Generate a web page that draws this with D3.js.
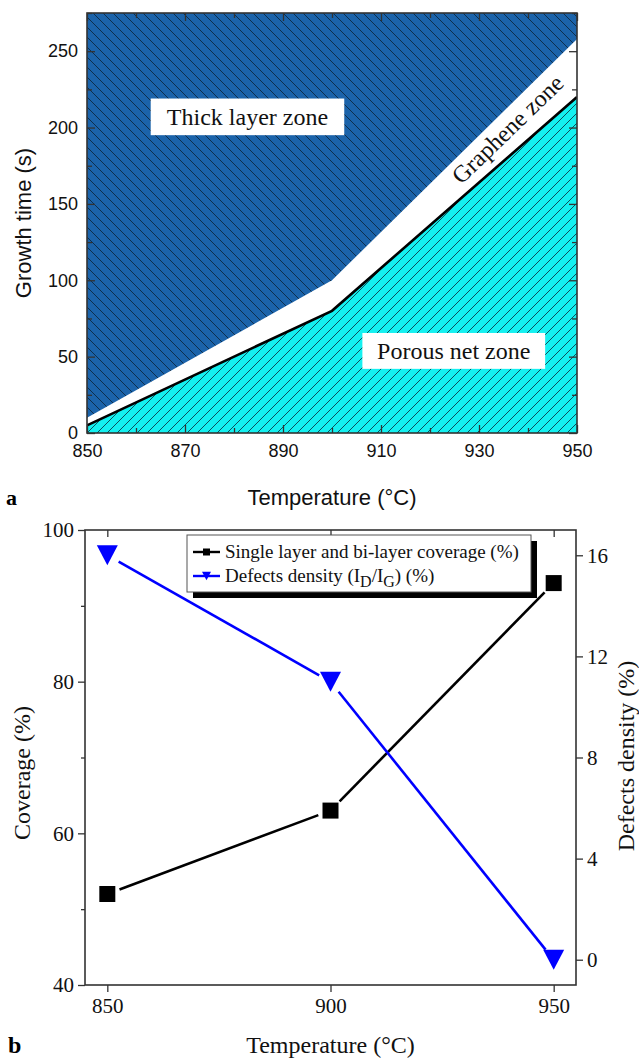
<!DOCTYPE html>
<html>
<head>
<meta charset="utf-8">
<script src="https://cdn.jsdelivr.net/npm/d3@7"></script>
<style>
body { margin: 0; background: #fff; }
</style>
</head>
<body>
<div id="chart"></div>
<script>
// ---- panel a : growth map ----
var temps_a      = [850, 900, 950];
var porous_edge  = [5, 80, 220];    // top of porous net zone
var thick_edge   = [10, 100, 258];  // bottom of thick layer zone
var ticks_a_x    = [850, 870, 890, 910, 930, 950];
var minor_a_x    = [860, 880, 900, 920, 940];
var ticks_a_y    = [0, 50, 100, 150, 200, 250];
var minor_a_y    = [25, 75, 125, 175, 225, 275];

// ---- panel b : coverage / defects ----
var temps_b      = [850, 900, 950];
var coverage     = [52, 63, 93];
var defects      = [16, 11, 0];
var ticks_b_x    = [850, 900, 950];
var ticks_b_cov  = [40, 60, 80, 100];
var minor_b_cov  = [50, 70, 90];
var ticks_b_def  = [0, 4, 8, 12, 16];

var width  = 639;
var height = 1060;

var sans  = 'Liberation Sans, Arial, sans-serif';
var serif = 'Liberation Serif, Times New Roman, serif';

var svg = d3.select('#chart')
	.append('svg')
	.attr('width', width)
	.attr('height', height);

var defs = svg.append('defs');

function hatch(id, fill, d) {
	var p = defs.append('pattern')
		.attr('id', id)
		.attr('patternUnits', 'userSpaceOnUse')
		.attr('width', 10)
		.attr('height', 10);
	p.append('rect').attr('width', 10).attr('height', 10).attr('fill', fill);
	p.append('path').attr('d', d)
		.attr('stroke', '#0b1d2e')
		.attr('stroke-width', 0.9)
		.attr('stroke-opacity', 0.85);
}
hatch('hatchBlue', '#1b63aa', 'M0,0L10,10M-2,8L2,12M8,-2L12,2');
hatch('hatchCyan', '#14f0f0', 'M0,10L10,0M-2,2L2,-2M8,12L12,8');

// ================= PANEL A =================
var ax = {l: 87, r: 577, t: 13, b: 433};

var x_a = d3.scaleLinear().domain([850, 950]).range([ax.l, ax.r]);
var y_a = d3.scaleLinear().domain([0, 275]).range([ax.b, ax.t]);

defs.append('clipPath').attr('id', 'clipA')
	.append('rect')
	.attr('x', ax.l).attr('y', ax.t)
	.attr('width', ax.r - ax.l).attr('height', ax.b - ax.t);

var gA = svg.append('g');
var plotA = gA.append('g').attr('clip-path', 'url(#clipA)');

var rows_a = temps_a.map(function(t, i) {
	return {t: t, lo: porous_edge[i], hi: thick_edge[i]};
});

var thickArea = d3.area()
	.x(function(d) { return x_a(d.t); })
	.y0(function(d) { return y_a(d.hi); })
	.y1(function() { return y_a(275); });

var porousArea = d3.area()
	.x(function(d) { return x_a(d.t); })
	.y0(function() { return y_a(0); })
	.y1(function(d) { return y_a(d.lo); });

plotA.append('path').datum(rows_a)
	.attr('d', thickArea)
	.attr('fill', 'url(#hatchBlue)');

plotA.append('path').datum(rows_a)
	.attr('d', porousArea)
	.attr('fill', 'url(#hatchCyan)');

plotA.append('path').datum(rows_a)
	.attr('d', d3.line()
		.x(function(d) { return x_a(d.t); })
		.y(function(d) { return y_a(d.lo); }))
	.attr('fill', 'none')
	.attr('stroke', '#000')
	.attr('stroke-width', 2.6);

// zone labels
function zoneBox(text, x0, x1, y0, y1) {
	gA.append('rect')
		.attr('x', x_a(x0)).attr('y', y_a(y1))
		.attr('width', x_a(x1) - x_a(x0))
		.attr('height', y_a(y0) - y_a(y1))
		.attr('fill', '#fff');
	gA.append('text')
		.attr('x', (x_a(x0) + x_a(x1)) / 2)
		.attr('y', (y_a(y0) + y_a(y1)) / 2)
		.attr('dy', '0.35em')
		.attr('text-anchor', 'middle')
		.style('font-family', serif)
		.style('font-size', '24px')
		.attr('fill', '#111')
		.text(text);
}
zoneBox('Thick layer zone', 863, 902.5, 195, 219);
zoneBox('Porous net zone', 906.2, 943.5, 42, 65.5);

gA.append('text')
	.attr('transform', 'translate(' + x_a(935.8) + ',' + y_a(199) + ') rotate(-44)')
	.attr('dy', '0.35em')
	.attr('text-anchor', 'middle')
	.style('font-family', serif)
	.style('font-size', '24px')
	.attr('fill', '#111')
	.text('Graphene zone');

// axes a
function styleAxis(g, font, size) {
	g.select('.domain').remove();
	g.selectAll('line').attr('stroke', '#333').attr('stroke-width', 1.3);
	g.selectAll('text').style('font-family', font).style('font-size', size).attr('fill', '#111');
}

gA.append('g').attr('transform', 'translate(0,' + ax.b + ')')
	.call(d3.axisBottom(x_a).tickValues(ticks_a_x).tickSize(-8).tickPadding(11).tickFormat(d3.format('d')))
	.call(styleAxis, sans, '18px');
gA.append('g').attr('transform', 'translate(0,' + ax.b + ')')
	.call(d3.axisBottom(x_a).tickValues(minor_a_x).tickSize(-5).tickFormat(''))
	.call(styleAxis, sans, '18px');
gA.append('g').attr('transform', 'translate(0,' + ax.t + ')')
	.call(d3.axisTop(x_a).tickValues(ticks_a_x).tickSize(-8).tickFormat(''))
	.call(styleAxis, sans, '18px');
gA.append('g').attr('transform', 'translate(0,' + ax.t + ')')
	.call(d3.axisTop(x_a).tickValues(minor_a_x).tickSize(-5).tickFormat(''))
	.call(styleAxis, sans, '18px');

gA.append('g').attr('transform', 'translate(' + ax.l + ',0)')
	.call(d3.axisLeft(y_a).tickValues(ticks_a_y).tickSize(-8).tickPadding(9))
	.call(styleAxis, sans, '18px');
gA.append('g').attr('transform', 'translate(' + ax.l + ',0)')
	.call(d3.axisLeft(y_a).tickValues(minor_a_y).tickSize(-5).tickFormat(''))
	.call(styleAxis, sans, '18px');
gA.append('g').attr('transform', 'translate(' + ax.r + ',0)')
	.call(d3.axisRight(y_a).tickValues(ticks_a_y).tickSize(-8).tickFormat(''))
	.call(styleAxis, sans, '18px');
gA.append('g').attr('transform', 'translate(' + ax.r + ',0)')
	.call(d3.axisRight(y_a).tickValues(minor_a_y).tickSize(-5).tickFormat(''))
	.call(styleAxis, sans, '18px');

gA.append('rect')
	.attr('x', ax.l).attr('y', ax.t)
	.attr('width', ax.r - ax.l).attr('height', ax.b - ax.t)
	.attr('fill', 'none').attr('stroke', '#333').attr('stroke-width', 1.6);

gA.append('text')
	.attr('transform', 'translate(23,' + ((ax.t + ax.b) / 2) + ') rotate(-90)')
	.attr('text-anchor', 'middle')
	.attr('dy', '0.35em')
	.style('font-family', sans).style('font-size', '22px').attr('fill', '#111')
	.text('Growth time (s)');

gA.append('text')
	.attr('x', (ax.l + ax.r) / 2).attr('y', 505)
	.attr('text-anchor', 'middle')
	.style('font-family', sans).style('font-size', '22px').attr('fill', '#111')
	.text('Temperature (°C)');

gA.append('text')
	.attr('x', 6).attr('y', 505)
	.style('font-family', serif).style('font-size', '22px').style('font-weight', 'bold')
	.text('a');

// ================= PANEL B =================
var bx = {l: 85, r: 576, t: 530, b: 985};

var x_b  = d3.scaleLinear().domain([845, 955]).range([bx.l, bx.r]);
var y_bl = d3.scaleLinear().domain([40, 100]).range([bx.b, bx.t]);
var y_br = d3.scaleLinear().domain([-1, 17]).range([bx.b, bx.t]);

var gB = svg.append('g');

gB.append('g').attr('transform', 'translate(0,' + bx.b + ')')
	.call(d3.axisBottom(x_b).tickValues(ticks_b_x).tickSize(7).tickPadding(6))
	.call(styleAxis, serif, '21px');
gB.append('g').attr('transform', 'translate(0,' + bx.t + ')')
	.call(d3.axisTop(x_b).tickValues(ticks_b_x).tickSize(-7).tickFormat(''))
	.call(styleAxis, serif, '21px');
gB.append('g').attr('transform', 'translate(' + bx.l + ',0)')
	.call(d3.axisLeft(y_bl).tickValues(ticks_b_cov).tickSize(7).tickPadding(4))
	.call(styleAxis, serif, '21px');
gB.append('g').attr('transform', 'translate(' + bx.l + ',0)')
	.call(d3.axisLeft(y_bl).tickValues(minor_b_cov).tickSize(4).tickFormat(''))
	.call(styleAxis, serif, '21px');
gB.append('g').attr('transform', 'translate(' + bx.r + ',0)')
	.call(d3.axisRight(y_br).tickValues(ticks_b_def).tickSize(7).tickPadding(4))
	.call(styleAxis, serif, '21px');

gB.append('rect')
	.attr('x', bx.l).attr('y', bx.t)
	.attr('width', bx.r - bx.l).attr('height', bx.b - bx.t)
	.attr('fill', 'none').attr('stroke', '#333').attr('stroke-width', 1.6);

// lines with a gap around the markers
function gappedLine(pts, color, gap) {
	for (var i = 0; i < pts.length - 1; i++) {
		var a = pts[i], b = pts[i + 1];
		var dx = b[0] - a[0], dy = b[1] - a[1];
		var len = Math.sqrt(dx * dx + dy * dy);
		var ux = dx / len, uy = dy / len;
		gB.append('line')
			.attr('x1', a[0] + ux * gap).attr('y1', a[1] + uy * gap)
			.attr('x2', b[0] - ux * gap).attr('y2', b[1] - uy * gap)
			.attr('stroke', color)
			.attr('stroke-width', 2.6);
	}
}

var covPts = temps_b.map(function(t, i) { return [x_b(t), y_bl(coverage[i])]; });
var defPts = temps_b.map(function(t, i) { return [x_b(t), y_br(defects[i])]; });

gappedLine(covPts, '#000', 13);
gappedLine(defPts, '#0000ff', 13);

function downTri(s) {
	var h = s * 0.95;
	return 'M' + (-s / 2) + ',' + (-h / 2) + 'L' + (s / 2) + ',' + (-h / 2) + 'L0,' + (h / 2) + 'Z';
}

gB.selectAll('.sq').data(covPts).enter().append('rect')
	.attr('x', function(d) { return d[0] - 8; })
	.attr('y', function(d) { return d[1] - 8; })
	.attr('width', 16).attr('height', 16)
	.attr('fill', '#000');

gB.selectAll('.tri').data(defPts).enter().append('path')
	.attr('transform', function(d) { return 'translate(' + d[0] + ',' + d[1] + ')'; })
	.attr('d', downTri(21))
	.attr('fill', '#0000ff');

// legend
var lg = {x: 187, y: 535, w: 344, h: 57};
gB.append('rect')
	.attr('x', lg.x + 6).attr('y', lg.y + 6)
	.attr('width', lg.w).attr('height', lg.h)
	.attr('fill', '#000');
gB.append('rect')
	.attr('x', lg.x).attr('y', lg.y)
	.attr('width', lg.w).attr('height', lg.h)
	.attr('fill', '#fff').attr('stroke', '#555').attr('stroke-width', 1);

var legendRows = [
	{color: '#000', y: lg.y + 17},
	{color: '#0000ff', y: lg.y + 41}
];
legendRows.forEach(function(r, i) {
	gB.append('line')
		.attr('x1', lg.x + 6).attr('x2', lg.x + 33)
		.attr('y1', r.y).attr('y2', r.y)
		.attr('stroke', r.color).attr('stroke-width', 2.4);
	if (i === 0) {
		gB.append('rect')
			.attr('x', lg.x + 16).attr('y', r.y - 3.5)
			.attr('width', 7).attr('height', 7).attr('fill', r.color);
	} else {
		gB.append('path')
			.attr('transform', 'translate(' + (lg.x + 19.5) + ',' + r.y + ')')
			.attr('d', downTri(9)).attr('fill', r.color);
	}
});

gB.append('text')
	.attr('x', lg.x + 38).attr('y', legendRows[0].y).attr('dy', '0.32em')
	.style('font-family', serif).style('font-size', '19px').attr('fill', '#111')
	.text('Single layer and bi-layer coverage (%)');

var lt2 = gB.append('text')
	.attr('x', lg.x + 38).attr('y', legendRows[1].y).attr('dy', '0.32em')
	.style('font-family', serif).style('font-size', '19px').attr('fill', '#111');
lt2.append('tspan').text('Defects density (I');
lt2.append('tspan').attr('dy', 5).style('font-size', '16px').text('D');
lt2.append('tspan').attr('dy', -5).text('/I');
lt2.append('tspan').attr('dy', 5).style('font-size', '16px').text('G');
lt2.append('tspan').attr('dy', -5).text(') (%)');

gB.append('text')
	.attr('transform', 'translate(22,' + 773 + ') rotate(-90)')
	.attr('text-anchor', 'middle').attr('dy', '0.35em')
	.style('font-family', serif).style('font-size', '24px').attr('fill', '#111')
	.text('Coverage (%)');

gB.append('text')
	.attr('transform', 'translate(626,' + 756 + ') rotate(-90)')
	.attr('text-anchor', 'middle').attr('dy', '0.35em')
	.style('font-family', serif).style('font-size', '24px').attr('fill', '#111')
	.text('Defects density (%)');

gB.append('text')
	.attr('x', (bx.l + bx.r) / 2).attr('y', 1053)
	.attr('text-anchor', 'middle')
	.style('font-family', serif).style('font-size', '24px').attr('fill', '#111')
	.text('Temperature (°C)');

gB.append('text')
	.attr('x', 8).attr('y', 1053)
	.style('font-family', serif).style('font-size', '24px').style('font-weight', 'bold')
	.text('b');
</script>
</body>
</html>
